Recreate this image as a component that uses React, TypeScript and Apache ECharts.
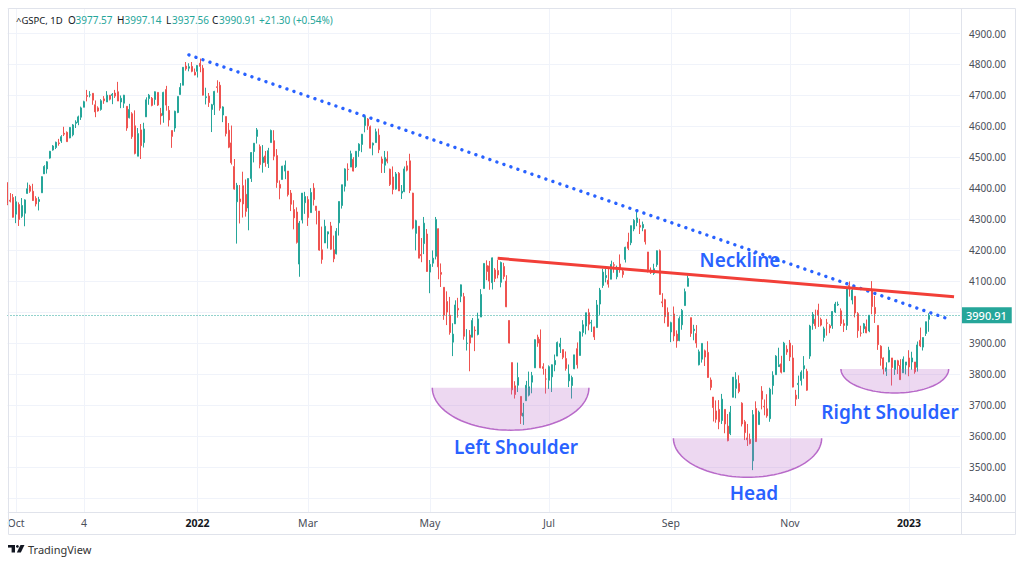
import React, { useEffect, useRef } from "react";
import * as echarts from "echarts";

// Daily candles, each row = [open, high, low, close]
const sep2021 = [[4419,4419,4346,4352],[4362,4385,4355,4359],[4371,4382,4306,4307]];
const oct2021 = [
  [4317,4375,4288,4357],[4348,4355,4279,4300],[4310,4369,4305,4345],[4320,4365,4278,4363],[4384,4419,4383,4399],
  [4407,4412,4386,4391],[4391,4415,4360,4361],[4368,4375,4342,4350],[4358,4373,4329,4364],[4386,4439,4386,4438],
  [4447,4475,4447,4471],[4463,4488,4448,4486],[4498,4521,4496,4520],[4524,4540,4522,4537],[4532,4551,4527,4549],
  [4547,4560,4538,4545],[4553,4572,4547,4567],[4578,4599,4569,4575],[4581,4584,4551,4551],[4563,4598,4562,4597],
  [4573,4608,4568,4605]];
const nov2021 = [
  [4610,4620,4595,4614],[4613,4635,4604,4631],[4630,4664,4621,4660],[4662,4683,4662,4680],[4700,4718,4681,4697],
  [4702,4714,4694,4702],[4707,4708,4670,4685],[4670,4684,4630,4647],[4660,4665,4648,4650],[4655,4688,4651,4683],
  [4689,4698,4673,4683],[4679,4714,4679,4701],[4701,4701,4684,4688],[4700,4708,4672,4704],[4708,4718,4692,4698],
  [4712,4744,4682,4682],[4679,4700,4659,4691],[4675,4702,4660,4701],[4665,4665,4586,4595],[4628,4673,4626,4655],
  [4641,4646,4560,4567]];
const dec2021 = [
  [4602,4652,4510,4513],[4504,4595,4504,4577],[4589,4608,4495,4538],[4548,4612,4532,4592],[4631,4694,4631,4686],
  [4690,4705,4670,4701],[4691,4695,4665,4668],[4687,4713,4670,4712],[4710,4710,4666,4669],[4642,4660,4606,4634],
  [4636,4712,4612,4710],[4719,4731,4651,4669],[4652,4666,4600,4621],[4587,4587,4531,4568],[4595,4651,4583,4649],
  [4645,4697,4643,4697],[4703,4740,4703,4726],[4733,4791,4733,4791],[4795,4808,4780,4786],[4788,4804,4778,4793],
  [4794,4808,4775,4778],[4775,4787,4765,4766]];
const jan2022 = [
  [4778,4797,4758,4797],[4804,4819,4775,4794],[4788,4798,4700,4701],[4693,4725,4671,4696],[4698,4708,4663,4677],
  [4655,4673,4582,4670],[4670,4715,4637,4713],[4728,4749,4709,4726],[4733,4744,4651,4659],[4637,4665,4614,4663],
  [4632,4632,4568,4577],[4588,4611,4530,4533],[4547,4603,4477,4483],[4471,4495,4396,4398],[4357,4418,4222,4410],
  [4366,4411,4287,4357],[4409,4454,4306,4350],[4381,4429,4309,4326],[4337,4432,4265,4432],[4432,4517,4421,4516]];
const feb2022 = [
  [4519,4546,4484,4546],[4568,4595,4545,4589],[4535,4542,4465,4477],[4483,4540,4451,4501],[4505,4521,4470,4484],
  [4480,4531,4466,4522],[4548,4590,4548,4587],[4554,4588,4491,4504],[4506,4527,4402,4419],[4413,4426,4365,4401],
  [4429,4473,4429,4472],[4456,4490,4430,4475],[4456,4456,4374,4380],[4385,4395,4327,4349],[4332,4362,4268,4305],
  [4324,4339,4222,4226],[4156,4295,4115,4288],[4298,4385,4287,4385],[4354,4389,4318,4374]];
const mar2022 = [
  [4364,4375,4279,4306],[4322,4401,4322,4387],[4401,4417,4345,4364],[4343,4343,4284,4329],[4327,4327,4199,4201],
  [4202,4277,4157,4171],[4224,4299,4224,4278],[4253,4261,4206,4260],[4279,4292,4202,4204],[4202,4248,4162,4173],
  [4189,4272,4187,4262],[4289,4358,4248,4358],[4345,4412,4335,4412],[4407,4465,4390,4463],[4462,4481,4425,4461],
  [4469,4522,4469,4512],[4494,4501,4455,4456],[4470,4520,4466,4520],[4522,4546,4502,4543],[4542,4576,4517,4575],
  [4603,4637,4581,4632],[4624,4627,4589,4602],[4599,4603,4531,4530]];
const apr2022 = [
  [4540,4548,4507,4546],[4548,4593,4548,4583],[4572,4593,4514,4525],[4495,4503,4450,4481],[4475,4521,4450,4500],
  [4495,4520,4481,4488],[4462,4464,4408,4413],[4437,4471,4381,4397],[4398,4453,4396,4447],[4449,4453,4392,4392],
  [4385,4411,4366,4391],[4390,4471,4388,4463],[4473,4489,4455,4459],[4489,4512,4385,4394],[4385,4386,4268,4272],
  [4255,4299,4200,4296],[4278,4278,4175,4175],[4187,4240,4162,4183],[4222,4308,4188,4288],[4253,4269,4131,4132]];
const may2022 = [
  [4130,4169,4062,4155],[4159,4200,4147,4175],[4181,4308,4171,4300],[4270,4271,4107,4147],[4129,4158,4082,4123],
  [4081,4081,3976,3991],[4035,4068,3959,4001],[3991,4050,3928,3935],[3904,3965,3859,3930],[3963,4039,3963,4024],
  [4013,4047,3983,4008],[4052,4090,4033,4089],[4051,4063,3912,3923],[3900,3946,3877,3901],[3927,3943,3810,3901],
  [3920,3982,3920,3974],[3943,3955,3875,3941],[3929,3999,3926,3979],[3985,4075,3985,4058],[4077,4158,4077,4158],
  [4151,4168,4104,4132]];
const jun2022 = [
  [4150,4166,4073,4101],[4096,4177,4074,4176],[4137,4143,4098,4109],[4135,4169,4110,4121],[4097,4164,4081,4161],
  [4148,4160,4107,4116],[4101,4120,4017,4018],[3974,3974,3900,3901],[3838,3838,3735,3750],[3763,3778,3722,3735],
  [3765,3838,3743,3790],[3729,3729,3640,3667],[3665,3708,3637,3675],[3715,3779,3715,3765],[3733,3809,3729,3760],
  [3775,3808,3739,3796],[3821,3913,3821,3912],[3920,3928,3889,3901],[3913,3945,3820,3821],[3825,3836,3799,3819],
  [3785,3818,3738,3785]];
const jul2022 = [
  [3781,3829,3753,3825],[3792,3832,3743,3831],[3831,3864,3810,3845],[3859,3906,3859,3903],[3889,3918,3869,3899],
  [3880,3880,3849,3855],[3851,3874,3812,3819],[3779,3832,3759,3801],[3764,3796,3722,3790],[3818,3863,3817,3863],
  [3883,3903,3819,3831],[3861,3939,3861,3937],[3935,3975,3922,3960],[3956,3999,3929,3999],[3999,4012,3942,3962],
  [3966,3976,3937,3967],[3953,3954,3911,3921],[3951,4040,3951,4024],[4027,4079,3992,4072],[4087,4141,4079,4130]];
const aug2022 = [
  [4112,4141,4097,4119],[4104,4140,4080,4091],[4107,4167,4107,4155],[4154,4162,4128,4152],[4115,4151,4107,4145],
  [4156,4187,4128,4140],[4133,4137,4112,4122],[4171,4212,4161,4210],[4227,4257,4201,4207],[4225,4280,4217,4280],
  [4269,4301,4262,4297],[4290,4325,4278,4305],[4281,4302,4253,4275],[4273,4293,4262,4284],[4267,4267,4219,4228],
  [4195,4195,4129,4138],[4133,4145,4124,4128],[4126,4157,4121,4141],[4154,4200,4147,4199],[4199,4203,4057,4058],
  [4034,4062,4017,4031],[4041,4044,3965,3986],[4000,4016,3954,3955]];
const sep2022 = [
  [3937,3970,3904,3967],[3995,4019,3907,3924],[3930,3942,3886,3908],[3909,3987,3907,3980],[3960,4011,3944,4006],
  [4022,4077,4022,4067],[4084,4119,4084,4110],[3983,3983,3921,3932],[3941,3960,3910,3946],[3932,3959,3886,3901],
  [3831,3880,3829,3873],[3849,3900,3838,3900],[3876,3880,3827,3856],[3871,3907,3789,3790],[3782,3790,3749,3758],
  [3727,3727,3648,3693],[3682,3716,3644,3655],[3687,3717,3623,3647],[3651,3737,3640,3720],[3687,3687,3610,3640],
  [3633,3672,3584,3586]];
const oct2022 = [
  [3609,3698,3604,3678],[3726,3791,3726,3791],[3755,3807,3723,3783],[3771,3797,3739,3745],[3707,3710,3632,3640],
  [3647,3653,3588,3612],[3595,3640,3569,3589],[3590,3609,3574,3577],[3521,3685,3491,3670],[3690,3713,3582,3583],
  [3638,3683,3638,3678],[3746,3762,3687,3720],[3697,3719,3668,3695],[3689,3736,3660,3666],[3657,3757,3647,3752],
  [3764,3810,3735,3797],[3799,3862,3799,3859],[3825,3886,3824,3831],[3834,3860,3803,3807],[3808,3905,3808,3901],
  [3881,3894,3863,3872]];
const nov2022 = [
  [3901,3911,3843,3856],[3853,3894,3758,3759],[3733,3750,3698,3720],[3767,3796,3721,3771],[3780,3813,3764,3807],
  [3818,3859,3786,3828],[3810,3818,3747,3749],[3859,3960,3850,3956],[3964,4001,3944,3993],[3978,4009,3947,3957],
  [4007,4028,3953,3992],[3977,3983,3955,3959],[3919,3954,3906,3947],[3966,3979,3925,3965],[3957,3962,3933,3950],
  [3957,4004,3947,4003],[4001,4034,3998,4027],[4024,4035,4021,4026],[4005,4013,3956,3964],[3964,3977,3937,3958],
  [3958,4080,3943,4080]];
const dec2022 = [
  [4087,4100,4051,4076],[4040,4080,4026,4072],[4052,4052,3984,3998],[3996,4001,3918,3941],[3933,3957,3922,3933],
  [3947,3966,3933,3963],[3954,3977,3933,3934],[3940,3991,3936,3991],[4069,4101,3994,4019],[4016,4053,3966,3996],
  [3958,3958,3879,3896],[3891,3894,3828,3852],[3853,3855,3800,3817],[3810,3839,3795,3821],[3840,3889,3839,3878],
  [3853,3853,3764,3822],[3816,3845,3798,3845],[3844,3847,3801,3829],[3829,3849,3783,3783],[3805,3858,3805,3849],
  [3830,3840,3800,3840]];
const jan2023 = [
  [3853,3878,3794,3824],[3840,3873,3815,3853],[3840,3840,3802,3808],[3823,3906,3809,3895],[3910,3951,3888,3892],
  [3888,3919,3877,3919],[3932,3970,3924,3970],[3977.57,3997.14,3937.56,3990.91]];

const candles = [
  ...sep2021, ...oct2021, ...nov2021, ...dec2021, ...jan2022, ...feb2022, ...mar2022, ...apr2022,
  ...may2022, ...jun2022, ...jul2022, ...aug2022, ...sep2022, ...oct2022, ...nov2022, ...dec2022, ...jan2023,
];

const emptySlotsRight = 11;
const tickLabels: Record<number, string> = {
  3: "Oct", 27: "4", 67: "2022", 106: "Mar", 149: "May", 191: "Jul", 234: "Sep", 276: "Nov", 318: "2023",
};
const boldLabels = ["2022", "2023"];
const hiddenPriceLabels = [4000];

const lastPrice = 3990.91;
const headerSymbol = "^GSPC, 1D";
const headerFields = [
  { k: "O", v: "3977.57" },
  { k: "H", v: "3997.14" },
  { k: "L", v: "3937.56" },
  { k: "C", v: "3990.91" },
  { k: "", v: "+21.30 (+0.54%)" },
];

// annotations in data space: [slot index, price]
const resistanceLine = [[64.0, 4831], [331.8, 3979]];
const necklineLine = [[172.9, 4174.6], [333.9, 4050.7]];
const bowls = [
  { from: 149.85, to: 205.1, top: 3757, bottom: 3620 },
  { from: 234.9, to: 287.2, top: 3594, bottom: 3468 },
  { from: 294.0, to: 332.0, top: 3817.4, bottom: 3740 },
];
const notes = [
  { text: "Neckline", x: 740, y: 260 },
  { text: "Left Shoulder", x: 516, y: 447 },
  { text: "Head", x: 754, y: 493 },
  { text: "Right Shoulder", x: 890, y: 411.5 },
];

const UP = "#26a69a";
const DOWN = "#ef5350";

export default function App() {
  const ref = useRef<HTMLDivElement>(null);
  useEffect(() => {
    if (!ref.current) return;
    const chart = echarts.init(ref.current, null, { renderer: "svg" });
    const categories = Array.from({ length: candles.length + emptySlotsRight }, (_, i) => String(i));
    const data = candles.map((r) => [r[0], r[3], r[2], r[1]]);
    const showTick = (i: number) => tickLabels[i] !== undefined;

    chart.setOption({
      animation: false,
      backgroundColor: "#ffffff",
      grid: { left: 7.5, width: 952.5, top: 8, height: 504 },
      xAxis: {
        type: "category",
        data: categories,
        boundaryGap: false,
        axisLine: { show: false },
        axisTick: { show: false },
        axisLabel: {
          interval: (i: number) => showTick(i),
          formatter: (_v: string, i: number) => {
            const t = tickLabels[i] ?? "";
            return boldLabels.includes(t) ? `{b|${t}}` : t;
          },
          color: "#4a4e59",
          fontSize: 10.5,
          fontFamily: "Noto Sans",
          margin: 5,
          rich: { b: { fontWeight: "bold", color: "#131722", fontSize: 10.5, fontFamily: "Noto Sans" } },
        },
        splitLine: { show: true, interval: (i: number) => showTick(i), lineStyle: { color: "#f0f3fa", width: 1 } },
      },
      yAxis: {
        type: "value",
        position: "right",
        min: 3355.9,
        max: 4982.3,
        splitNumber: 16,
        minInterval: 100,
        maxInterval: 100,
        axisLine: { show: false },
        axisTick: { show: false },
        axisLabel: {
          showMinLabel: false,
          showMaxLabel: false,
          formatter: (v: number) => (hiddenPriceLabels.includes(Math.round(v)) ? "" : v.toFixed(2)),
          margin: 9,
          fontSize: 10,
          fontFamily: "Noto Sans",
          color: "#4a4e59",
        },
        splitLine: { lineStyle: { color: "#f0f3fa", width: 1 } },
      },
      series: [
        {
          type: "candlestick",
          data,
          barWidth: 1.5,
          itemStyle: { color: UP, color0: DOWN, borderColor: UP, borderColor0: DOWN, borderWidth: 1 },
          markLine: {
            silent: true,
            symbol: "none",
            data: [{ yAxis: lastPrice }],
            lineStyle: { type: [1, 2], color: UP, width: 1 },
            label: {
              position: "end",
              formatter: lastPrice.toFixed(2),
              backgroundColor: UP,
              color: "#ffffff",
              padding: [3, 5, 2, 5],
              fontSize: 11,
              fontFamily: "Noto Sans",
              fontWeight: 500,
              distance: 1,
            },
          },
        },
      ],
    });

    const px = (i: number, v: number) => {
      const a = chart.convertToPixel({ gridIndex: 0 }, [0, v]) as number[];
      const b = chart.convertToPixel({ gridIndex: 0 }, [100, v]) as number[];
      return [a[0] + ((b[0] - a[0]) * i) / 100, a[1]];
    };

    const graphics: any[] = [];
    // frame
    graphics.push({ type: "rect", shape: { x: 8.5, y: 8.5, width: 1007, height: 526 }, style: { fill: "none", stroke: "#e0e3eb", lineWidth: 1 }, z: 50 });
    graphics.push({ type: "line", shape: { x1: 961.5, y1: 8, x2: 961.5, y2: 535 }, style: { stroke: "#e0e3eb", lineWidth: 1 }, z: 50 });
    graphics.push({ type: "line", shape: { x1: 8, y1: 512.5, x2: 1016, y2: 512.5 }, style: { stroke: "#e0e3eb", lineWidth: 1 }, z: 50 });

    // bowls
    bowls.forEach((b) => {
      const l = px(b.from, b.top);
      const r = px(b.to, b.top);
      const bt = px(b.from, b.bottom);
      const cx = (l[0] + r[0]) / 2;
      const cy = l[1];
      const rx = (r[0] - l[0]) / 2;
      const ry = bt[1] - cy;
      const pts: number[][] = [];
      for (let k = 0; k <= 60; k++) {
        const a = (Math.PI * k) / 60;
        pts.push([cx + rx * Math.cos(a), cy + ry * Math.sin(a)]);
      }
      graphics.push({ type: "polygon", shape: { points: pts }, style: { fill: "rgba(186,104,200,0.26)" }, z: 60 });
      graphics.push({ type: "polyline", shape: { points: pts }, style: { stroke: "#b86ac9", lineWidth: 1.5, fill: null }, z: 61 });
    });

    // resistance dotted line
    const r0 = px(resistanceLine[0][0], resistanceLine[0][1]);
    const r1 = px(resistanceLine[1][0], resistanceLine[1][1]);
    graphics.push({
      type: "line",
      shape: { x1: r0[0], y1: r0[1], x2: r1[0], y2: r1[1] },
      style: { stroke: "#2962ff", lineWidth: 3.4, lineDash: [0.01, 7.4], lineCap: "round" },
      z: 70,
    });
    // neckline
    const n0 = px(necklineLine[0][0], necklineLine[0][1]);
    const n1 = px(necklineLine[1][0], necklineLine[1][1]);
    graphics.push({
      type: "line",
      shape: { x1: n0[0], y1: n0[1], x2: n1[0], y2: n1[1] },
      style: { stroke: "#f23f38", lineWidth: 3, lineCap: "butt" },
      z: 70,
    });

    notes.forEach((n) => {
      graphics.push({
        type: "text",
        x: n.x,
        y: n.y,
        style: {
          text: n.text,
          fill: "#2962ff",
          font: "600 19px 'Noto Sans'",
          textAlign: "center",
          textVerticalAlign: "middle",
        },
        z: 80,
      });
    });

    // header
    const headerFont = "9.5px 'Noto Sans'";
    graphics.push({
      type: "text", x: 16, y: 20,
      style: { text: headerSymbol, fill: "#131722", font: headerFont, textAlign: "left", textVerticalAlign: "middle" }, z: 80,
    });
    const headerX = [68, 117, 166, 212, 259];
    const headerValueOffset = [7.5, 7.5, 6, 7, 0];
    headerFields.forEach((f, i) => {
      if (f.k) {
        graphics.push({
          type: "text", x: headerX[i], y: 20,
          style: { text: f.k, fill: "#131722", font: "10px 'Noto Sans'", textAlign: "left", textVerticalAlign: "middle" }, z: 80,
        });
      }
      graphics.push({
        type: "text", x: headerX[i] + headerValueOffset[i], y: 20,
        style: { text: f.v, fill: UP, font: "10px 'Noto Sans'", textAlign: "left", textVerticalAlign: "middle" }, z: 80,
      });
    });

    // TradingView logo
    graphics.push({ type: "rect", shape: { x: 8, y: 545, width: 7, height: 2.6 }, style: { fill: "#131722" }, z: 80 });
    graphics.push({ type: "rect", shape: { x: 11.6, y: 545, width: 3.4, height: 7.5 }, style: { fill: "#131722" }, z: 80 });
    graphics.push({ type: "circle", shape: { cx: 17.4, cy: 546.4, r: 1.4 }, style: { fill: "#131722" }, z: 80 });
    graphics.push({ type: "polygon", shape: { points: [[20.5, 545], [24.5, 545], [20.8, 552.5], [16.8, 552.5]] }, style: { fill: "#131722" }, z: 80 });
    graphics.push({
      type: "text", x: 28, y: 549,
      style: { text: "TradingView", fill: "#333333", font: "11px 'Noto Sans'", textAlign: "left", textVerticalAlign: "middle" }, z: 80,
    });

    chart.setOption({ graphic: graphics });
    return () => chart.dispose();
  }, []);

  return <div ref={ref} style={{ position: "fixed", left: 0, top: 0, width: 1024, height: 565, background: "#fff" }} />;
}
